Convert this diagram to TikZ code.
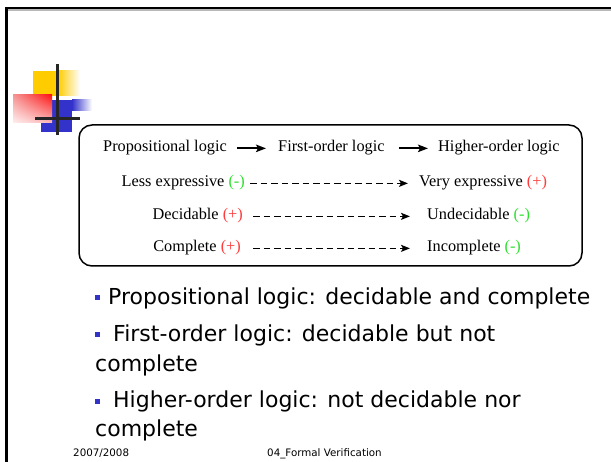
\documentclass[tikz,border=0pt]{standalone}
\usepackage{fontspec}
\setmainfont{Liberation Serif}
\newfontfamily\slidefont{DejaVu Sans}
\usetikzlibrary{arrows.meta,shadings}
\definecolor{plusred}{HTML}{FF3B3B}
\definecolor{minusgreen}{HTML}{2EE02E}
\definecolor{bulletblue}{HTML}{3333CC}
\definecolor{logoyellow}{HTML}{FFCC00}
\definecolor{logoblue}{HTML}{3333CC}
\definecolor{redUL}{RGB}{245,150,150}
\definecolor{redUR}{RGB}{255,20,20}
\definecolor{redLL}{RGB}{255,240,240}
\definecolor{redLR}{RGB}{250,185,185}
\newcommand\plusmark{\textcolor{plusred}{(+)}}
\newcommand\minusmark{\textcolor{minusgreen}{(-)}}
\begin{document}
\begin{tikzpicture}[x=1pt,y=-1pt,
  tbl/.style={inner sep=0pt, font=\fontsize{16.3}{18}\selectfont,
    text height=11.4pt, text depth=4.1pt},
  solidarr/.style={line width=1.7pt, -{Stealth[length=10pt,width=7.5pt,inset=2pt]}},
  dasharr/.style={line width=1.5pt, dash pattern=on 6.5pt off 4pt,
    -{Stealth[length=9pt,width=7pt,inset=2pt]}},
  bullettext/.style={inner sep=0pt, anchor=base west,
    font=\slidefont\fontsize{22}{26}\selectfont},
  foot/.style={inner sep=0pt, anchor=base west,
    font=\slidefont\fontsize{10.3}{12}\selectfont},
  bulletsq/.style={fill=bulletblue}
]
\useasboundingbox (0,0) rectangle (611,462);
\fill[white] (0,0) rectangle (611,462);

% slide frame
\fill[black] (5,7) rectangle (611,9.3);
\fill[gray!55] (8,9.3) rectangle (611,10.6);
\fill[black] (5,7) rectangle (8,462);

% title logo
\fill[logoyellow] (33,71) rectangle (58,96);
\shade[left color=logoyellow,right color=white] (58,71) rectangle (80,96);
\fill[logoblue] (41,100) rectangle (72,132);
\shade[left color=logoblue,right color=white] (72,100) rectangle (92,111);
\shade[upper left=redUL, upper right=redUR, lower left=redLL, lower right=redLR]
  (13,95) rectangle (52,123);
\fill[black!85] (56,64) rectangle (59,135);
\fill[black!85] (35,117) rectangle (80,120);

% expressiveness table
\draw[line width=1.5pt, rounded corners=13pt] (79,125) rectangle (582,266);

\node[tbl, anchor=base west] (p1) at (103,152) {Propositional logic};
\node[tbl, anchor=base west] (f1) at (278,152) {First-order logic};
\node[tbl, anchor=base west] (h1) at (438,152) {Higher-order logic};
\draw[solidarr] ([xshift=10pt]p1.east) -- ([xshift=-12pt]f1.west);
\draw[solidarr] ([xshift=14pt]f1.east) -- ([xshift=-10pt]h1.west);

\node[tbl, anchor=base east] (l2) at (245,187) {Less expressive \minusmark};
\node[tbl, anchor=base west] (r2) at (419,187) {Very expressive \plusmark};
\draw[dasharr] ([xshift=5pt]l2.east) -- ([xshift=-11pt]r2.west);

\node[tbl, anchor=base east] (l3) at (243,220) {Decidable \plusmark};
\node[tbl, anchor=base west] (r3) at (427,220) {Undecidable \minusmark};
\draw[dasharr] ([xshift=10pt]l3.east) -- ([xshift=-17pt]r3.west);

\node[tbl, anchor=base east] (l4) at (241,252) {Complete \plusmark};
\node[tbl, anchor=base west] (r4) at (427,252) {Incomplete \minusmark};
\draw[dasharr] ([xshift=12pt]l4.east) -- ([xshift=-17pt]r4.west);

% bullet list
\fill[bulletsq] (95,295) rectangle (100,300);
\node[bullettext] (b1) at (108,305) {Propositional logic: decidable and complete};
\fill[bulletsq] (95,332) rectangle (100,337);
\node[bullettext] (b2a) at (113,342) {First-order logic: decidable but not};
\node[bullettext] (b2b) at (95,372) {complete};
\fill[bulletsq] (95,399) rectangle (100,404);
\node[bullettext] (b3a) at (113,408) {Higher-order logic: not decidable nor};
\node[bullettext] (b3b) at (95,437) {complete};

% footer
\node[foot] (yr) at (73,456.5) {2007/2008};
\node[foot] (ttl) at (267,456.5) {04\_Formal Verification};
\end{tikzpicture}
\end{document}
